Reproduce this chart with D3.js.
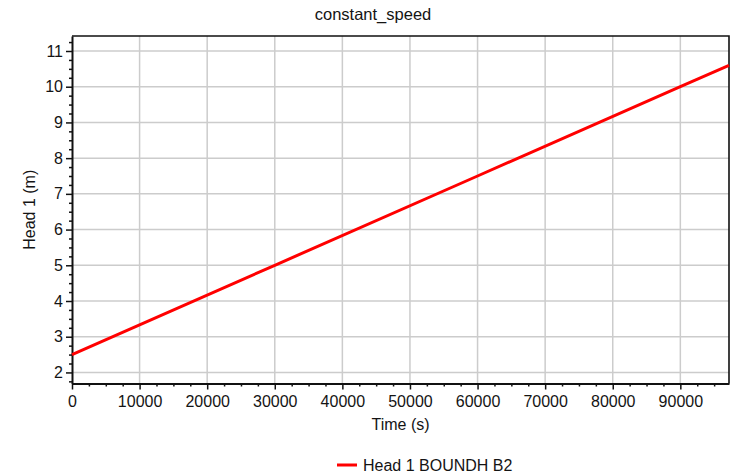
<!DOCTYPE html>
<html>
<head>
<meta charset="utf-8">
<script src="https://cdn.jsdelivr.net/npm/d3@7"></script>
<style>
  html, body { margin: 0; padding: 0; background: #fff; }
  svg { display: block; }
  text { font-family: "Liberation Sans", Arial, sans-serif; fill: #141414; }
</style>
</head>
<body>
<svg id="chart" width="736" height="476"></svg>
<script>
// Series: head at the boundary over time
const timeSeconds = [0, 30000, 60000, 90000, 97200];
const headMetres  = [2.5, 5.0, 7.5, 10.0, 10.6];

const xTicks = [0, 10000, 20000, 30000, 40000, 50000, 60000, 70000, 80000, 90000];
const yTicks = [2, 3, 4, 5, 6, 7, 8, 9, 10, 11];

const chartTitle = "constant_speed";
const xLabel = "Time (s)";
const yLabel = "Head 1 (m)";
const seriesName = "Head 1 BOUNDH B2";

const svg = d3.select("#chart");
const plot = { left: 72, top: 36, right: 729, bottom: 383.5 };

const x = d3.scaleLinear().domain([0, 97200]).range([plot.left, plot.right]);
const y = d3.scaleLinear().domain([1.69, 11.42]).range([plot.bottom, plot.top]);

const gridColor = "#cccccc";

// grid
svg.append("g").selectAll("line").data(xTicks.filter(d => d > 0)).join("line")
  .attr("x1", d => x(d)).attr("x2", d => x(d))
  .attr("y1", plot.top).attr("y2", plot.bottom)
  .attr("stroke", gridColor).attr("stroke-width", 1.5);
svg.append("g").selectAll("line").data(yTicks).join("line")
  .attr("x1", plot.left).attr("x2", plot.right)
  .attr("y1", d => y(d)).attr("y2", d => y(d))
  .attr("stroke", gridColor).attr("stroke-width", 1.5);

// frame top/right
svg.append("path")
  .attr("d", `M${plot.left},${plot.top}H${plot.right}V${plot.bottom}`)
  .attr("fill", "none").attr("stroke", "#111").attr("stroke-width", 1.6);

// minor ticks
const xMinor = d3.range(0, 97200, 2500).filter(d => d % 10000 !== 0);
const yMinor = d3.range(1.75, 11.42, 0.25).filter(d => Math.abs(d - Math.round(d)) > 1e-6);

const xAxis = svg.append("g").attr("transform", `translate(0,${plot.bottom})`);
xAxis.call(d3.axisBottom(x).tickValues(xMinor).tickSize(3).tickFormat(""))
  .call(g => g.select(".domain").remove());
xAxis.selectAll("line").attr("stroke", "#111").attr("stroke-width", 1.5);

const xAxisMajor = svg.append("g").attr("transform", `translate(0,${plot.bottom})`);
xAxisMajor.call(d3.axisBottom(x).tickValues(xTicks).tickSize(6).tickSizeOuter(0).tickPadding(6).tickFormat(d3.format("d")));
xAxisMajor.select(".domain").attr("stroke", "#111").attr("stroke-width", 2);
xAxisMajor.selectAll(".tick line").attr("stroke", "#111").attr("stroke-width", 1.5);
xAxisMajor.selectAll(".tick text").attr("font-size", 16).attr("font-family", null).attr("fill", "#141414");

const yAxis = svg.append("g").attr("transform", `translate(${plot.left},0)`);
yAxis.call(d3.axisLeft(y).tickValues(yMinor).tickSize(3).tickFormat(""))
  .call(g => g.select(".domain").remove());
yAxis.selectAll("line").attr("stroke", "#111").attr("stroke-width", 1.5);

const yAxisMajor = svg.append("g").attr("transform", `translate(${plot.left},0)`);
yAxisMajor.call(d3.axisLeft(y).tickValues(yTicks).tickSize(6).tickSizeOuter(0).tickPadding(3).tickFormat(d3.format("d")));
yAxisMajor.select(".domain").attr("stroke", "#111").attr("stroke-width", 2);
yAxisMajor.selectAll(".tick line").attr("stroke", "#111").attr("stroke-width", 1.5);
yAxisMajor.selectAll(".tick text").attr("font-size", 16).attr("font-family", null).attr("fill", "#141414");

// series line
const line = d3.line().x((d, i) => x(timeSeconds[i])).y(d => y(d));
svg.append("path")
  .datum(headMetres)
  .attr("d", line)
  .attr("fill", "none")
  .attr("stroke", "#ff0000")
  .attr("stroke-width", 3);

// titles
svg.append("text").attr("x", 373).attr("y", 20).attr("text-anchor", "middle")
  .attr("font-size", 16.5).text(chartTitle);
svg.append("text").attr("x", (plot.left + plot.right) / 2).attr("y", 430).attr("text-anchor", "middle")
  .attr("font-size", 16).text(xLabel);
svg.append("text")
  .attr("transform", `translate(35,${(plot.top + plot.bottom) / 2}) rotate(-90)`)
  .attr("text-anchor", "middle").attr("font-size", 16).text(yLabel);

// legend
const legend = svg.append("g").attr("transform", "translate(337,465)");
legend.append("line").attr("x1", 0).attr("x2", 20).attr("y1", 0).attr("y2", 0)
  .attr("stroke", "#ff0000").attr("stroke-width", 3);
legend.append("text").attr("x", 26).attr("y", 5.5).attr("font-size", 16).text(seriesName);
</script>
</body>
</html>
